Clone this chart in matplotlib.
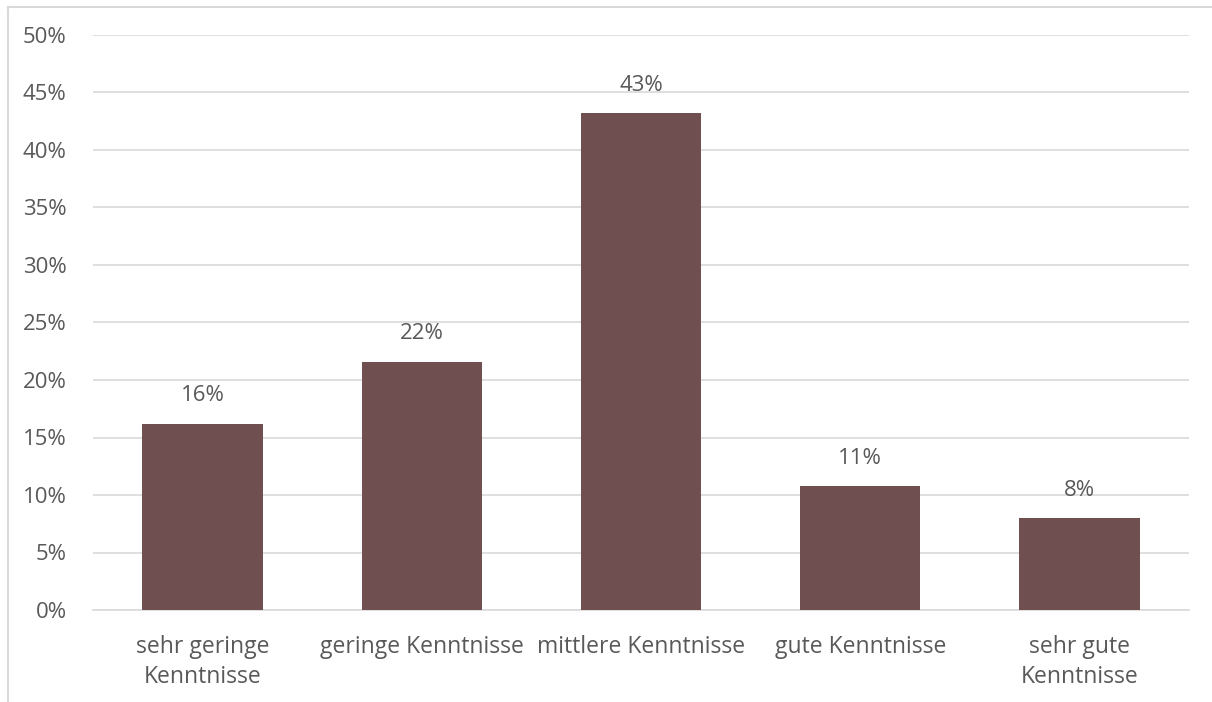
import matplotlib.pyplot as plt
from matplotlib.lines import Line2D

categories = ["sehr geringe\nKenntnisse", "geringe Kenntnisse", "mittlere Kenntnisse",
              "gute Kenntnisse", "sehr gute\nKenntnisse"]
values = [16.2, 21.6, 43.2, 10.8, 8.0]
labels = ["16%", "22%", "43%", "11%", "8%"]
yticks = [0, 5, 10, 15, 20, 25, 30, 35, 40, 45, 50]

TEXT = "#595959"
GRID = "#D9D9D9"
BAR = "#704F50"

plt.rcParams['font.family'] = ['Open Sans', 'DejaVu Sans']

fig = plt.figure(figsize=(12.12, 7.02), dpi=100)
ax = fig.add_axes([93 / 1212, 1 - 610 / 702, (1189 - 93) / 1212, (610 - 35) / 702])

x = range(len(categories))
ax.bar(x, values, width=0.55, color=BAR, zorder=3)
for xi, v, lab in zip(x, values, labels):
    ax.annotate(lab, (xi, v), xytext=(0, 20), textcoords="offset points",
                ha="center", va="center", fontsize=16, color=TEXT)

ax.set_xlim(-0.5, len(categories) - 0.5)
ax.set_ylim(0, 50)
ax.set_yticks(yticks)
ax.set_yticklabels([f"{t}%" for t in yticks])
ax.set_xticks(list(x))
ax.set_xticklabels(categories, linespacing=1.35)
ax.yaxis.grid(True, color=GRID, linewidth=1.2, zorder=0)
ax.tick_params(axis="both", length=0, labelsize=16, labelcolor=TEXT)
ax.tick_params(axis="x", labelsize=16.5, pad=18)
ax.tick_params(axis="y", pad=19)
for s in ["top", "right", "left"]:
    ax.spines[s].set_visible(False)
ax.spines["bottom"].set_color(GRID)
ax.spines["bottom"].set_linewidth(1.2)

# chart frame (cropped)
fig.add_artist(Line2D([8 / 1212, 1], [1 - 7 / 702, 1 - 7 / 702], color=GRID, linewidth=1.5))
fig.add_artist(Line2D([8 / 1212, 8 / 1212], [0, 1 - 7 / 702], color=GRID, linewidth=1.5))

fig.savefig("out.png", dpi=100)
